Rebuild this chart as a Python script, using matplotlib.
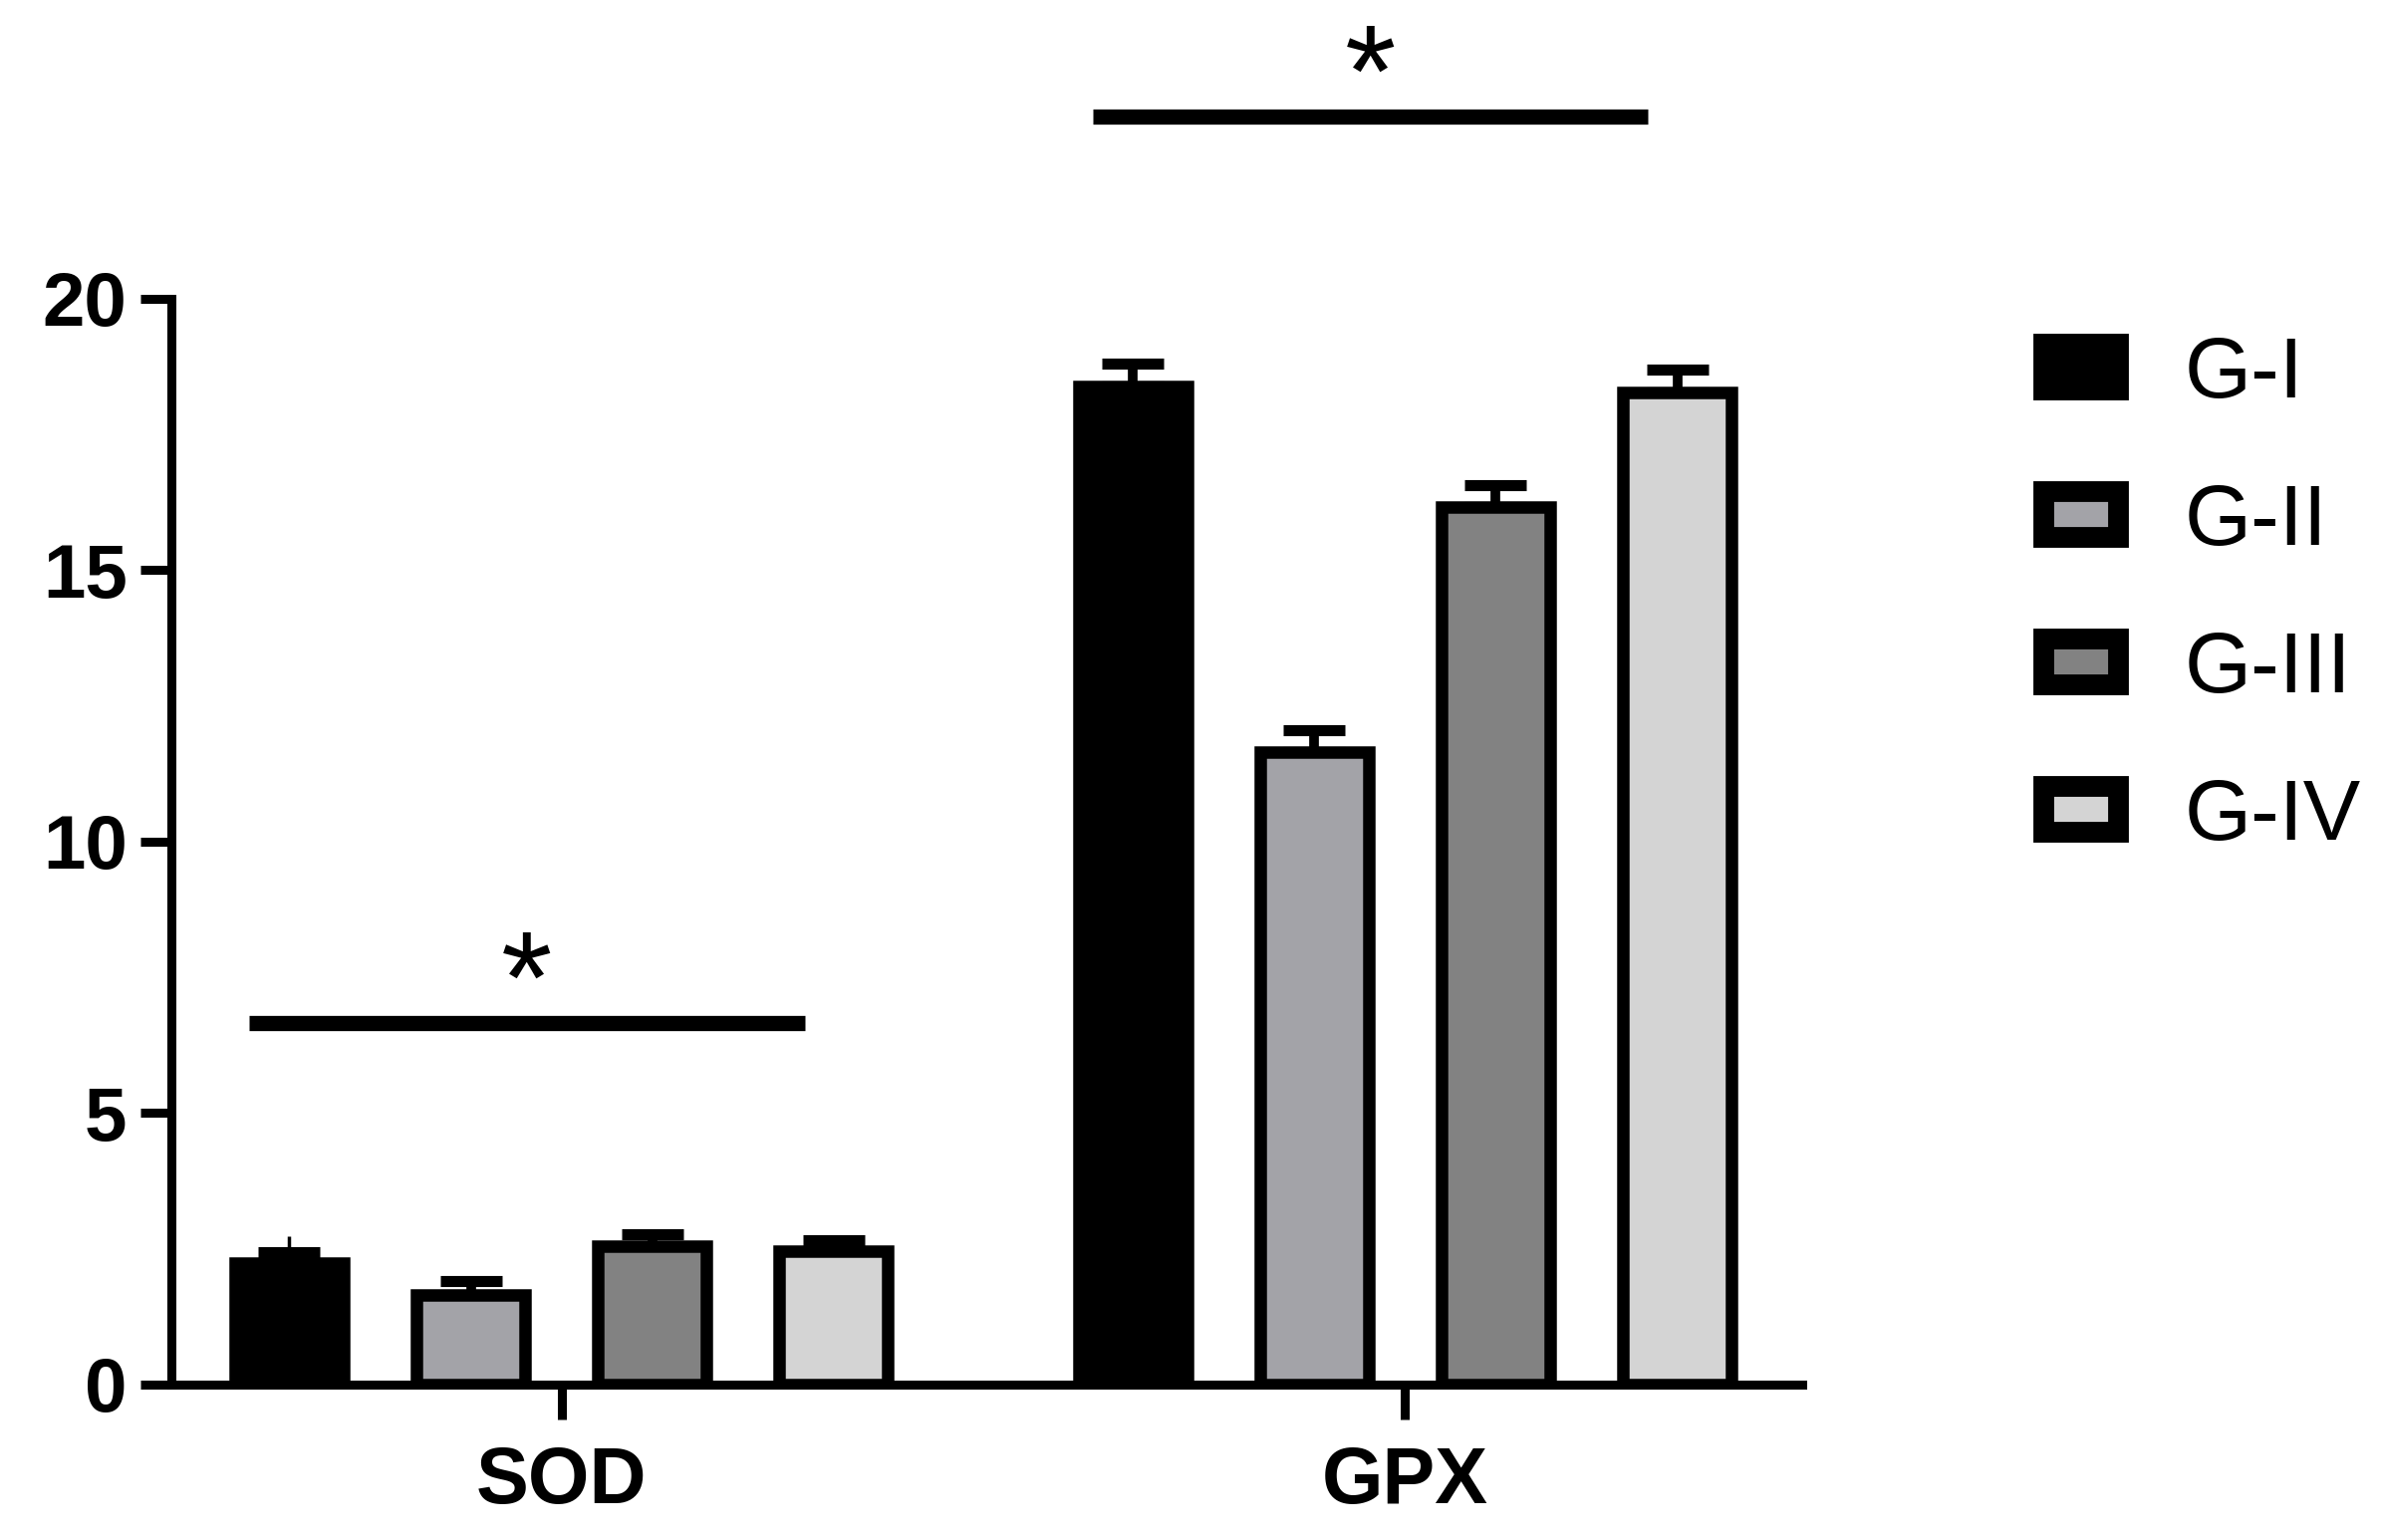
import numpy as np
import matplotlib
matplotlib.use("Agg")
import matplotlib.pyplot as plt
from matplotlib.patches import Patch

plt.rcParams['font.family'] = ['Liberation Sans', 'DejaVu Sans']

# data
markers = ['SOD', 'GPX']
groups = ['G-I', 'G-II', 'G-III', 'G-IV']
sod_mean = [2.24, 1.65, 2.55, 2.46]
sod_err = [0.2, 0.25, 0.22, 0.2]
gpx_mean = [18.38, 11.65, 16.17, 18.27]
gpx_err = [0.42, 0.41, 0.39, 0.42]
sod_gi_stem = 0.5  # thin whisker above SOD G-I
colors = ['#000000', '#a3a3a8', '#828282', '#d4d4d4']
sig_levels = [6.65, 23.35]

means = np.array([sod_mean, gpx_mean])
errs = np.array([sod_err, gpx_err])

fig = plt.figure(figsize=(23.9, 15.46), dpi=100)
ax = fig.add_axes([0.072, 0.101, 0.685, 0.705])

group_pos = np.array([0.0, 4.65])
offsets = np.array([-1.5, -0.5, 0.5, 1.5])
bar_w = 0.6

# thin whisker on SOD G-I
ax.errorbar([group_pos[0] + offsets[0]], [sod_mean[0]], yerr=[[0], [sod_gi_stem]],
            fmt='none', ecolor='black', elinewidth=2.5, capsize=0, zorder=1)

for j, g in enumerate(groups):
    xs = group_pos + offsets[j]
    ax.errorbar(xs, means[:, j], yerr=[np.zeros(2), errs[:, j]], fmt='none',
                ecolor='black', elinewidth=7, capsize=22, capthick=8, zorder=1)
    ax.bar(xs, means[:, j], width=bar_w, color=colors[j], edgecolor='black',
           linewidth=9, zorder=2)

# significance lines + stars
for k, gp in enumerate(group_pos):
    x0, x1 = gp - 1.72, gp + 1.34
    ax.plot([x0, x1], [sig_levels[k], sig_levels[k]], color='black', lw=11,
            solid_capstyle='butt', clip_on=False)
    ax.text((x0 + x1) / 2, sig_levels[k] + 0.02, '*', ha='center',
            va='baseline', fontsize=95, clip_on=False)

ax.set_xlim(-2.15, group_pos[1] + 2.19)
ax.set_ylim(0, 20)
ax.set_yticks([0, 5, 10, 15, 20])
ax.set_xticks(group_pos)
ax.set_xticklabels(markers)

for s in ['top', 'right']:
    ax.spines[s].set_visible(False)
for s in ['left', 'bottom']:
    ax.spines[s].set_linewidth(6.5)
ax.tick_params(axis='y', width=6.5, length=22, labelsize=55, pad=10)
ax.tick_params(axis='x', width=6.5, length=25, labelsize=57, pad=19)
for lab in ax.get_xticklabels() + ax.get_yticklabels():
    lab.set_fontweight('bold')

handles = [Patch(facecolor=c, edgecolor='black', linewidth=15) for c in colors]
fig.legend(handles, groups, loc='upper left', bbox_to_anchor=(0.840, 0.81),
           frameon=False, fontsize=62, handlelength=0.87, handleheight=0.45,
           handletextpad=0.78, labelspacing=0.79, borderpad=0)

fig.savefig('out.png', dpi=100)
